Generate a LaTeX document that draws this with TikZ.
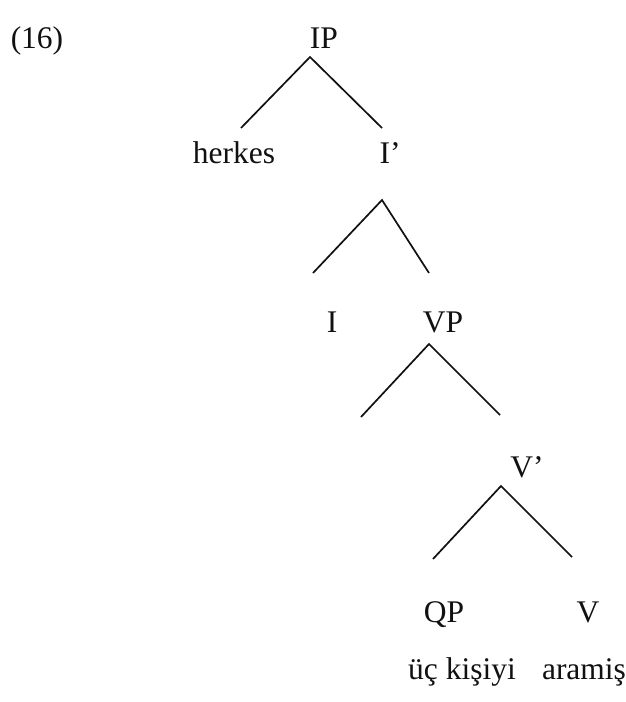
\documentclass[tikz,border=0pt]{standalone}
\usepackage{fontspec}
\setmainfont{Liberation Serif}
\usepackage{xcolor}
\definecolor{ink}{HTML}{111111}

\begin{document}
\begin{tikzpicture}[x=1pt, y=-1pt,
    tree-label/.style={anchor=base, inner sep=0pt, text=ink,
                       font=\fontsize{31.5}{36}\selectfont},
    branch/.style={draw=ink, line width=1.7pt}]
    % Tree (16): IP over herkes / I', down to QP and V.
    % Coordinates: (x, y) in pt, y counted downward from the top edge
    %   page 626pt x 702pt
    %   label rows (baselines) at y = 48, 163, 332, 477, 622, 679
    %   each branch pair: apex, left foot, right foot
    \useasboundingbox (0,0) rectangle (626,702);

    % labels
    \node[tree-label] (ex) at (37,48) {(16)};
    \node[tree-label] (ip) at (324,48) {IP};
    \node[tree-label] (herkes) at (234,163) {herkes};
    \node[tree-label] (ibar) at (390,163) {I’};
    \node[tree-label] (i) at (332,332) {I};
    \node[tree-label] (vp) at (443,332) {VP};
    \node[tree-label] (vbar) at (527,477) {V’};
    \node[tree-label] (qp) at (444,622) {QP};
    \node[tree-label] (v) at (588,622) {V};
    \node[tree-label] (uckisiyi) at (462,679) {üç kişiyi};
    \node[tree-label] (aramis) at (584,679) {aramiş};

    % branch ends
    \coordinate (ip-top) at (310,57);
    \coordinate (ip-l) at (241,128);
    \coordinate (ip-r) at (382,128);
    \coordinate (ibar-top) at (382,200);
    \coordinate (ibar-l) at (313,273);
    \coordinate (ibar-r) at (429,273);
    \coordinate (vp-top) at (429,344);
    \coordinate (vp-l) at (361,417);
    \coordinate (vp-r) at (500,415);
    \coordinate (vbar-top) at (501,486);
    \coordinate (vbar-l) at (433,559);
    \coordinate (vbar-r) at (572,557);

    % branches
    \foreach \n in {ip, ibar, vp, vbar}
      \draw[branch] (\n-l) -- (\n-top) -- (\n-r);
\end{tikzpicture}
\end{document}
